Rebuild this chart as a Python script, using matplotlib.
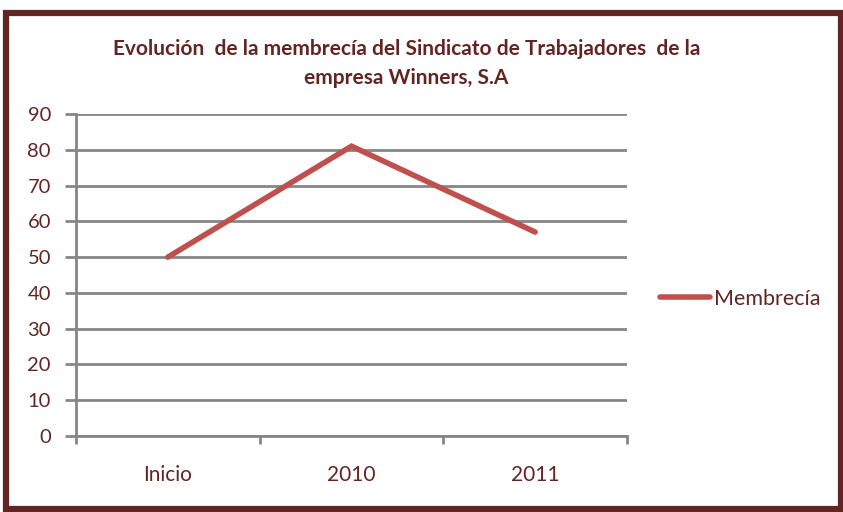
import matplotlib
matplotlib.use("Agg")
import matplotlib.pyplot as plt
from matplotlib.patches import Rectangle

# --- Données ---
categorias = ["Inicio", "2010", "2011"]
membrecia = [50, 81, 57]
serie_nombre = "Membrecía"
titulo = "Evolución  de la membrecía del Sindicato de Trabajadores  de la\nempresa Winners, S.A"

# --- Styles ---
texto_color = "#632523"
gris = "#868686"
rojo = "#C0504D"
plt.rcParams["font.family"] = ["Lato", "DejaVu Sans"]

fig = plt.figure(figsize=(8.43, 5.12), dpi=100)
ax = fig.add_axes([76 / 843, 1 - 436 / 512, (627 - 76) / 843, (436 - 114) / 512])

x = [i + 0.5 for i in range(len(categorias))]
ax.plot(x, membrecia, color=rojo, lw=4, solid_capstyle="round",
        solid_joinstyle="miter", label=serie_nombre, zorder=3)

ax.set_xlim(0, len(categorias))
ax.set_ylim(0, 90)
ax.set_yticks(range(0, 91, 10))
ax.yaxis.grid(True, color=gris, lw=2)
ax.set_axisbelow(True)

# ticks en x aux limites des catégories, étiquettes au centre
ax.set_xticks(range(len(categorias) + 1))
ax.set_xticklabels([])
ax.set_xticks(x, minor=True)
ax.set_xticklabels(categorias, minor=True)
ax.tick_params(axis="x", which="major", length=6, width=2, color=gris)
ax.tick_params(axis="x", which="minor", length=0, pad=21, labelsize=15, labelcolor=texto_color)
ax.tick_params(axis="y", length=8, width=2, color=gris, pad=10, labelsize=14.5, labelcolor=texto_color)

for lado in ["top", "right"]:
    ax.spines[lado].set_visible(False)
for lado in ["left", "bottom"]:
    ax.spines[lado].set_color(gris)
    ax.spines[lado].set_linewidth(2)

fig.text(0.482, 0.876, titulo, ha="center", va="center", fontsize=15,
         fontweight="bold", color=texto_color, linespacing=1.6)

leg = fig.legend(loc="center left", bbox_to_anchor=(641 / 843, 1 - 299 / 512),
                 frameon=False, fontsize=15.5, handlelength=2.3, handletextpad=0.2)
for t in leg.get_texts():
    t.set_color(texto_color)

# cadre du graphique
fig.patches.append(Rectangle((6 / 843, 3 / 512), 835 / 843, 496 / 512,
                             transform=fig.transFigure, fill=False,
                             edgecolor="#632523", lw=4.5))

fig.savefig("out.png", dpi=100)
